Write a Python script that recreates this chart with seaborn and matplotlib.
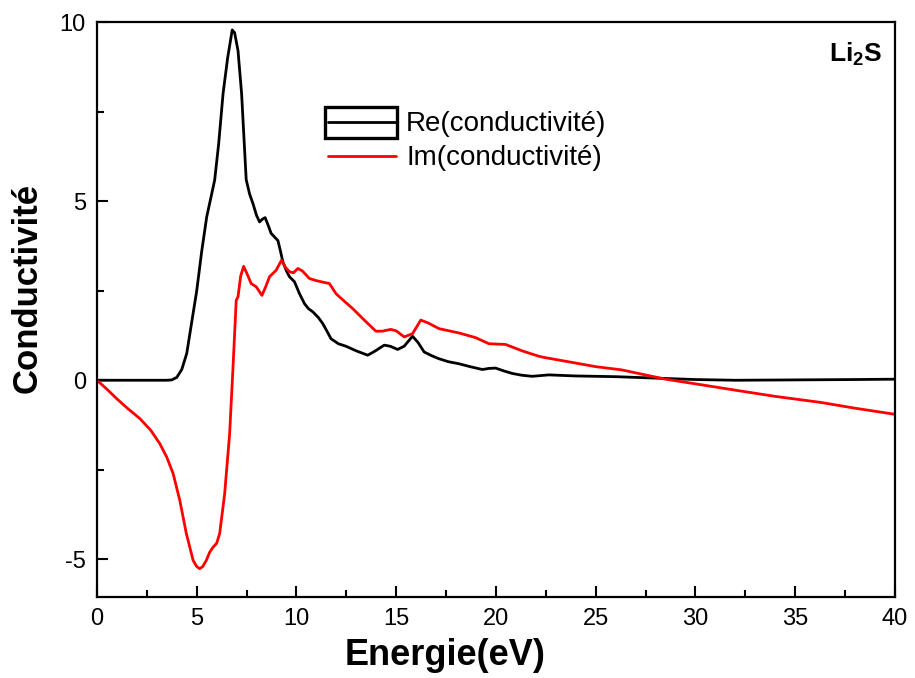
import numpy as np
import pandas as pd
import matplotlib
matplotlib.use('Agg')
import matplotlib.pyplot as plt
from matplotlib.patches import Rectangle
from matplotlib.ticker import MultipleLocator
import seaborn as sns

# values
energie_re = [0, 1, 2, 3, 3.5, 3.75, 4.0, 4.25, 4.5, 4.8, 5.0, 5.25, 5.5, 5.75, 5.9,
              6.1, 6.32, 6.55, 6.78, 6.9, 7.07, 7.25, 7.48, 7.65, 7.82, 8.0, 8.15,
              8.3, 8.43, 8.6, 8.73, 8.9, 9.07, 9.2, 9.32, 9.5, 9.65, 9.9, 10.15,
              10.4, 10.6, 10.82, 11.1, 11.32, 11.5, 11.73, 12.1, 12.48, 13.0, 13.57,
              13.9, 14.4, 14.7, 15.07, 15.4, 15.82, 16.1, 16.4, 16.8, 17.15, 17.6,
              18.15, 18.7, 19.32, 19.65, 19.98, 20.4, 20.82, 21.3, 21.82, 22.65, 24,
              26, 28, 30, 32, 35, 38, 40]
re_cond = [0, 0, 0, 0, 0, 0.01, 0.08, 0.3, 0.75, 1.8, 2.5, 3.6, 4.56, 5.2, 5.59,
           6.6, 8.0, 9.0, 9.78, 9.7, 9.2, 8.0, 5.6, 5.2, 4.93, 4.6, 4.42, 4.5,
           4.54, 4.3, 4.1, 4.0, 3.9, 3.6, 3.3, 3.05, 2.89, 2.75, 2.42, 2.14, 2.0,
           1.91, 1.75, 1.58, 1.4, 1.16, 1.02, 0.95, 0.82, 0.70, 0.80, 0.98, 0.95,
           0.86, 0.95, 1.23, 1.05, 0.79, 0.68, 0.60, 0.52, 0.46, 0.38, 0.30, 0.33,
           0.34, 0.26, 0.19, 0.14, 0.11, 0.15, 0.12, 0.10, 0.06, 0.02, 0.0, 0.01,
           0.02, 0.03]

energie_im = [0, 0.5, 0.98, 1.5, 2.15, 2.7, 3.15, 3.5, 3.82, 4.15, 4.48, 4.82, 5.0,
              5.15, 5.3, 5.48, 5.65, 5.82, 6.0, 6.15, 6.4, 6.65, 6.82, 6.98, 7.07,
              7.2, 7.35, 7.5, 7.73, 7.98, 8.27, 8.45, 8.65, 8.98, 9.25, 9.45, 9.65,
              9.85, 10.07, 10.3, 10.65, 11.0, 11.48, 11.65, 11.98, 12.15, 12.82,
              13.4, 13.98, 14.3, 14.73, 15.0, 15.4, 15.82, 16.23, 16.6, 17.15,
              18.15, 18.98, 19.65, 20.48, 21.32, 22.15, 22.48, 23.8, 25, 26.3,
              28.5, 30, 32.15, 34, 36.3, 38, 40]
im_cond = [0, -0.25, -0.51, -0.77, -1.07, -1.4, -1.77, -2.15, -2.61, -3.35, -4.28,
           -5.03, -5.2, -5.26, -5.2, -5.03, -4.8, -4.66, -4.55, -4.28, -3.17,
           -1.49, 0.37, 2.23, 2.33, 2.9, 3.18, 3.0, 2.70, 2.61, 2.37, 2.6, 2.89,
           3.07, 3.35, 3.15, 3.03, 3.0, 3.12, 3.05, 2.84, 2.78, 2.72, 2.70, 2.42,
           2.33, 2.0, 1.68, 1.37, 1.37, 1.42, 1.38, 1.21, 1.30, 1.68, 1.60, 1.44,
           1.32, 1.19, 1.02, 1.0, 0.82, 0.67, 0.63, 0.5, 0.38, 0.29, 0.03, -0.1,
           -0.29, -0.45, -0.62, -0.78, -0.95]

label_re = 'Re(conductivité)'
label_im = 'Im(conductivité)'

df_re = pd.DataFrame({'E': energie_re, 'val': re_cond})
df_im = pd.DataFrame({'E': energie_im, 'val': im_cond})

sns.set_style('ticks')
plt.rcParams['font.family'] = ['Liberation Sans', 'DejaVu Sans']
plt.rcParams['mathtext.fontset'] = 'custom'
plt.rcParams['mathtext.bf'] = 'Liberation Sans:bold'
plt.rcParams['mathtext.rm'] = 'Liberation Sans'
plt.rcParams['axes.unicode_minus'] = False
plt.rcParams['text.color'] = 'black'
plt.rcParams['axes.labelcolor'] = 'black'
plt.rcParams['xtick.color'] = 'black'
plt.rcParams['ytick.color'] = 'black'

fig = plt.figure(figsize=(9.15, 6.78), dpi=100)
ax = fig.add_axes([0.106, 0.1195, 0.872, 0.848])

sns.lineplot(data=df_re, x='E', y='val', color='black', lw=2, ax=ax,
             label=label_re, sort=False, estimator=None)
sns.lineplot(data=df_im, x='E', y='val', color='red', lw=2, ax=ax,
             label=label_im, sort=False, estimator=None)

ax.set_xlim(0, 40)
ax.set_ylim(-6.05, 10)
ax.xaxis.set_major_locator(MultipleLocator(5))
ax.xaxis.set_minor_locator(MultipleLocator(2.5))
ax.yaxis.set_major_locator(MultipleLocator(5))
ax.yaxis.set_minor_locator(MultipleLocator(2.5))
ax.tick_params(which='both', direction='in', bottom=True, left=True,
               top=False, right=False, labelsize=17, width=1.5, pad=8)
ax.tick_params(which='major', length=8)
ax.tick_params(which='minor', length=5)
for s in ax.spines.values():
    s.set_linewidth(1.6)
    s.set_color('black')

ax.set_xlabel('Energie(eV)', fontsize=26, fontweight='bold')
ax.set_ylabel('Conductivité', fontsize=25, fontweight='bold')
ax.xaxis.set_label_coords(0.436, -0.072)
ax.yaxis.set_label_coords(-0.067, 0.537)

leg = ax.legend(loc='upper left', bbox_to_anchor=(0.2757, 0.864), frameon=False,
                fontsize=20, handlelength=2.45, handletextpad=0.36,
                labelspacing=0.29, borderaxespad=0)
ax.add_patch(Rectangle((0.286, 0.798), 0.09, 0.054, transform=ax.transAxes,
                       fill=False, lw=2.4, edgecolor='black', zorder=5))

ax.text(0.984, 0.943, r'$\mathbf{Li_2S}$', transform=ax.transAxes,
        ha='right', va='center', fontsize=19)

plt.savefig('out.png', dpi=100)
plt.close()
